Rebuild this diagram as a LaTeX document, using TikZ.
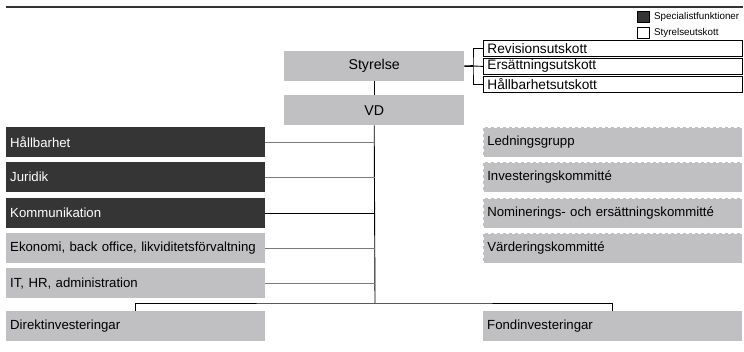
\documentclass[tikz,border=0pt]{standalone}
\usepackage{fontspec}
\setmainfont{Liberation Sans}
\definecolor{boxgrey}{HTML}{C0C0C2}
\definecolor{boxdark}{HTML}{353535}
\definecolor{linegrey}{HTML}{7A7A7A}
\begin{document}
\begin{tikzpicture}[x={(1pt,0)},y={(0,-1pt)},
  lbox/.style={fill=boxgrey, minimum height=30pt, text width=251pt, inner xsep=4pt, inner ysep=0pt, align=left, anchor=north west, font=\fontsize{13.2}{15}\selectfont},
  dbox/.style={lbox, fill=boxdark, text=white},
  rbox/.style={lbox, draw=white, dashed, line width=0.6pt},
  cbox/.style={fill=boxgrey, minimum width=180pt, minimum height=30pt, inner sep=0pt, anchor=north west, font=\fontsize{14.2}{16}\selectfont},
  kbox/.style={draw=black, line width=0.8pt, fill=white, minimum height=16pt, text width=251pt, inner xsep=4pt, inner ysep=0pt, align=left, anchor=north west, font=\fontsize{13.7}{15}\selectfont},
  legbox/.style={draw=black, line width=0.6pt, minimum width=12pt, minimum height=11pt, inner sep=0pt, anchor=north west},
  legtxt/.style={anchor=west, inner sep=0pt, font=\fontsize{9.8}{11}\selectfont},
  conn/.style={line width=0.9pt, black},
  gconn/.style={line width=1.2pt, linegrey},
]
\useasboundingbox (0,0) rectangle (744,352);
\draw[line width=1.6pt, black!80] (6,7) coordinate (tl) -- (743,7) coordinate (tr);
% legend
\node[legbox, fill=boxdark] (legd) at (637,11.5) {};
\node[legbox, fill=white] (legw) at (637,27) {};
\node[legtxt] (legdt) at (654,17) {Specialistfunktioner};
\node[legtxt] (legwt) at (654,32.5) {Styrelseutskott};
% central
\node[cbox] (sty) at (284,51) {Styrelse};
\node[cbox] (vd) at (284,95) {VD};
% committees
\node[kbox] (rev) at (483,40) {Revisionsutskott};
\node[kbox] (ers) at (483,58) {Ersättningsutskott};
\node[kbox] (hal) at (483,76) {Hållbarhetsutskott};
% left
\node[dbox] (hb) at (6,127) {Hållbarhet};
\node[dbox] (jur) at (6,162) {Juridik};
\node[dbox] (kom) at (6,198) {Kommunikation};
\node[lbox] (eko) at (6,233) {Ekonomi, back office, likviditetsförvaltning};
\node[lbox] (it) at (6,268) {IT, HR, administration};
\node[lbox] (dir) at (6,311) {Direktinvesteringar};
% right
\node[rbox] (led) at (483,127) {Ledningsgrupp};
\node[rbox] (inv) at (483,162) {Investeringskommitté};
\node[rbox] (nom) at (483,198) {Nominerings- och ersättningskommitté};
\node[rbox] (var) at (483,233) {Värderingskommitté};
\node[lbox] (fond) at (483,311) {Fondinvesteringar};
% connectors
\coordinate (br) at (473,66);
\coordinate (bus) at (375,303);
\draw[line width=1.6pt] (sty.east) -- (br);
\draw[conn] (rev.west) -| (br) |- (hal.west);
\draw[conn] (br) -- (ers.west);
\draw[conn] (sty.south) -- (vd.north);
\draw[conn] (vd.south) -- (bus);
\draw[gconn] (hb.east) -- (hb.east -| bus);
\draw[gconn] (jur.east) -- (jur.east -| bus);
\draw[conn] (kom.east) -- (kom.east -| bus);
\draw[gconn] (eko.east) -- (eko.east -| bus);
\draw[gconn] (it.east) -- (it.east -| bus);
\draw[conn] (dir.north) |- (bus) -| (fond.north);
\end{tikzpicture}
\end{document}
